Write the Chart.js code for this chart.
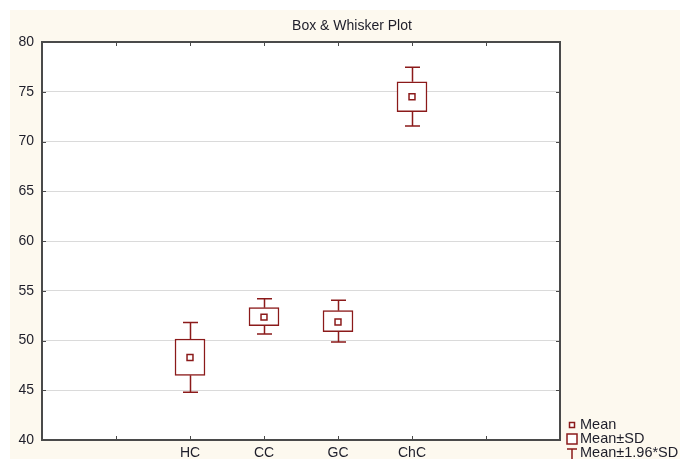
<!DOCTYPE html>
<html>
<head>
<meta charset="utf-8">
<script src="https://cdn.jsdelivr.net/npm/chart.js@4.4.1/dist/chart.umd.min.js"></script>
<style>
  html, body { margin: 0; padding: 0; background: #ffffff; }
  #c { display: block; }
</style>
</head>
<body>
<canvas id="c" width="680" height="459"></canvas>
<script>
// ---- Data ----
const titleText = 'Box & Whisker Plot';
const categories = ['HC', 'CC', 'GC', 'ChC'];
const means      = [48.3, 52.35, 51.85, 74.5];
const sdLow      = [46.5, 51.5, 50.9, 73.0];
const sdHigh     = [50.15, 53.3, 53.0, 76.0];
const ciLow      = [44.8, 50.65, 49.85, 71.55];
const ciHigh     = [51.8, 54.2, 54.05, 77.45];
const yTicks     = [40, 45, 50, 55, 60, 65, 70, 75, 80];
const legendLabels = ['Mean', 'Mean\u00B1SD', 'Mean\u00B11.96*SD'];

// two empty slots on each side of the categories (as in the reference axis)
const pad = arr => [null, null, ...arr, null, null];
const labels = pad(categories).map(v => v === null ? '' : v);

const RED = '#8B1A1A';
const AXIS = '#4a4a4a';
const TEXT = '#1e1e2a';
const FONT = "'Liberation Sans', Arial, sans-serif";

const boxPlugin = {
  id: 'boxDecor',
  beforeDraw(chart) {
    const ctx = chart.ctx, a = chart.chartArea;
    ctx.save();
    ctx.fillStyle = '#fdf9ef';
    ctx.fillRect(10, 10, chart.width - 10, chart.height - 10);
    ctx.fillStyle = '#ffffff';
    ctx.fillRect(a.left, a.top, a.right - a.left, a.bottom - a.top);
    ctx.restore();
  },
  afterDatasetsDraw(chart) {
    const ctx = chart.ctx, y = chart.scales.y;
    const meta = chart.getDatasetMeta(0);
    const lo = pad(ciLow), hi = pad(ciHigh), bl = pad(sdLow), bh = pad(sdHigh);
    ctx.save();
    ctx.strokeStyle = RED;
    ctx.lineWidth = 1.5;
    meta.data.forEach((el, i) => {
      if (hi[i] === null || hi[i] === undefined) return;
      const x = Math.round(el.x) + 0.5;
      const half = el.width / 4;
      const yh = y.getPixelForValue(hi[i]), yl = y.getPixelForValue(lo[i]);
      const ybh = y.getPixelForValue(bh[i]), ybl = y.getPixelForValue(bl[i]);
      ctx.beginPath();
      ctx.moveTo(x, ybh); ctx.lineTo(x, yh);
      ctx.moveTo(x - half, yh); ctx.lineTo(x + half, yh);
      ctx.moveTo(x, ybl); ctx.lineTo(x, yl);
      ctx.moveTo(x - half, yl); ctx.lineTo(x + half, yl);
      ctx.stroke();
    });
    ctx.restore();
  },
  afterDraw(chart) {
    const ctx = chart.ctx, a = chart.chartArea;
    const xs = chart.scales.x, ys = chart.scales.y;
    ctx.save();
    // frame
    ctx.strokeStyle = AXIS;
    ctx.lineWidth = 2;
    ctx.strokeRect(a.left, a.top, a.right - a.left, a.bottom - a.top);
    // inner tick marks
    ctx.lineWidth = 1;
    ctx.beginPath();
    for (let i = 1; i < labels.length - 1; i++) {
      const px = Math.round(xs.getPixelForValue(i)) + 0.5;
      ctx.moveTo(px, a.bottom); ctx.lineTo(px, a.bottom - 4);
      ctx.moveTo(px, a.top); ctx.lineTo(px, a.top + 4);
    }
    yTicks.slice(1, -1).forEach(v => {
      const py = Math.round(ys.getPixelForValue(v)) + 0.5;
      ctx.moveTo(a.left, py); ctx.lineTo(a.left + 4, py);
      ctx.moveTo(a.right, py); ctx.lineTo(a.right - 4, py);
    });
    ctx.stroke();
    // title
    ctx.fillStyle = TEXT;
    ctx.font = '14px ' + FONT;
    ctx.textAlign = 'center';
    ctx.textBaseline = 'middle';
    ctx.fillText(titleText, 352, 26);
    // legend
    const lx = 572, rows = [425, 439, 453];
    ctx.strokeStyle = RED;
    ctx.lineWidth = 1.5;
    ctx.fillStyle = '#ffffff';
    ctx.fillRect(lx - 2.5, rows[0] - 2.5, 5, 5);
    ctx.strokeRect(lx - 2.5, rows[0] - 2.5, 5, 5);
    ctx.fillRect(lx - 5, rows[1] - 5, 10, 10);
    ctx.strokeRect(lx - 5, rows[1] - 5, 10, 10);
    ctx.beginPath();
    ctx.moveTo(lx - 5, rows[2] - 4); ctx.lineTo(lx + 5, rows[2] - 4);
    ctx.moveTo(lx, rows[2] - 4); ctx.lineTo(lx, rows[2] + 6);
    ctx.stroke();
    ctx.fillStyle = TEXT;
    ctx.font = '14.5px ' + FONT;
    ctx.textAlign = 'left';
    legendLabels.forEach((t, i) => ctx.fillText(t, 580, rows[i]));
    ctx.restore();
  }
};

new Chart(document.getElementById('c'), {
  type: 'bar',
  data: {
    labels: labels,
    datasets: [
      {
        type: 'bar',
        label: legendLabels[1],
        data: pad(categories.map((_, i) => [sdLow[i], sdHigh[i]])),
        backgroundColor: '#ffffff',
        borderColor: RED,
        borderWidth: 1.5,
        borderSkipped: false,
        barThickness: 30,
        order: 2
      },
      {
        type: 'line',
        label: legendLabels[0],
        data: pad(means),
        showLine: false,
        pointStyle: 'rect',
        pointRadius: 4.2,
        pointBackgroundColor: '#ffffff',
        pointBorderColor: RED,
        pointBorderWidth: 1.5,
        order: 1
      }
    ]
  },
  options: {
    responsive: false,
    animation: false,
    devicePixelRatio: 1,
    layout: { padding: { top: 42, right: 120, left: 0, bottom: 0 } },
    plugins: {
      legend: { display: false },
      title: { display: false },
      tooltip: { enabled: false }
    },
    scales: {
      x: {
        type: 'category',
        offset: false,
        grid: { display: false, offset: false, drawTicks: false },
        border: { display: false },
        ticks: {
          autoSkip: false,
          maxRotation: 0,
          padding: 5,
          color: TEXT,
          font: { family: FONT, size: 14 }
        },
        afterFit(s) { s.height = 19; }
      },
      y: {
        type: 'linear',
        min: 40,
        max: 80,
        afterBuildTicks(s) { s.ticks = yTicks.map(v => ({ value: v })); },
        grid: { color: '#dadada', lineWidth: 1, drawTicks: false },
        border: { display: false },
        ticks: {
          padding: 8,
          color: TEXT,
          font: { family: FONT, size: 14 }
        },
        afterFit(s) { s.width = 42; }
      }
    }
  },
  plugins: [boxPlugin]
});
</script>
</body>
</html>
